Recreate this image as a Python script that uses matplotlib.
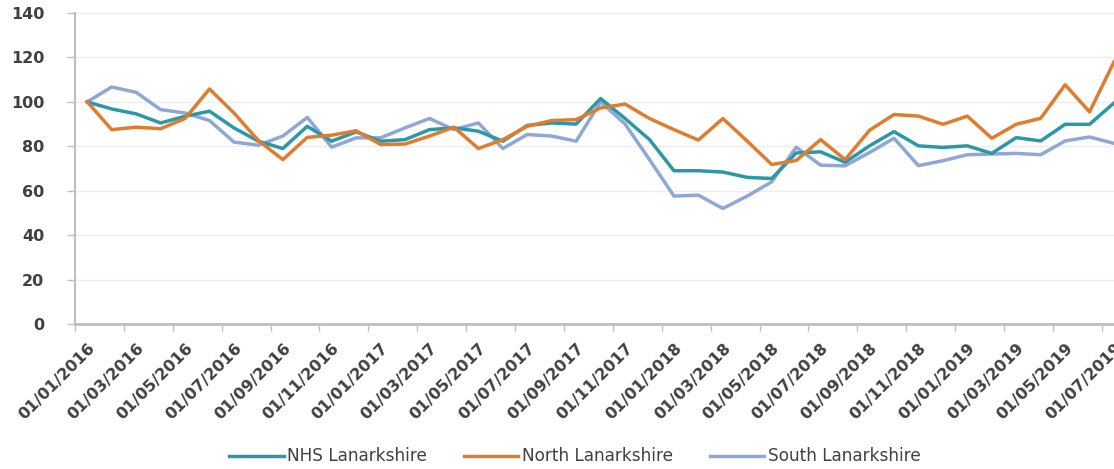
import matplotlib.pyplot as plt

# monthly index values, 01/01/2016 .. 01/07/2019
months = ['01/%02d/%d' % (m, y) for y in (2016, 2017, 2018, 2019) for m in range(1, 13)][:43]

nhs = [100, 96.8, 94.6, 90.5, 93.5, 95.8, 88.3, 82.3, 79, 89, 82.3, 86.5,
       82.3, 83, 87.5, 88.3, 86.8, 82.3, 89.4, 90.5, 90, 101.5, 92.5, 83,
       69, 69, 68.4, 66, 65.5, 77, 77.5, 72.8, 80.2, 86.6, 80.2, 79.5,
       80.2, 76.8, 83.9, 82.4, 89.9, 89.9, 99.5]
north = [100, 87.5, 88.6, 87.9, 92.5, 105.8, 95, 82.6, 74, 84, 85, 87,
         80.8, 81, 84.6, 88.6, 79, 83, 89, 91.6, 92, 97.3, 99, 92.5,
         87.5, 82.8, 92.5, 82.3, 71.8, 73.6, 83, 74, 87.2, 94.3, 93.6, 89.9,
         93.6, 83.6, 89.9, 92.6, 107.7, 95.5, 118]
south = [100, 106.7, 104.3, 96.5, 95, 91.6, 81.9, 80.5, 84.6, 93, 79.6, 83.8,
         83.8, 88.3, 92.5, 87.5, 90.5, 79, 85.3, 84.6, 82.3, 100, 90, 74,
         57.6, 58, 52, 57.6, 64, 79.6, 71.5, 71.2, 77.2, 83.6, 71.3, 73.5,
         76.2, 76.5, 76.8, 76.2, 82.4, 84.2, 81.3]

x = list(range(len(months)))

fig = plt.figure(figsize=(11.14, 4.69), dpi=100)
ax = fig.add_axes([75/1114, 145/469, 1 - 75/1114, 311/469])

ax.plot(x, nhs, color='#2B98A8', linewidth=2.5, label='NHS Lanarkshire', zorder=3)
ax.plot(x, north, color='#E07C2E', linewidth=2.5, label='North Lanarkshire', zorder=3)
ax.plot(x, south, color='#8FA7D6', linewidth=2.5, label='South Lanarkshire', zorder=2)

ax.set_ylim(0, 140)
ax.set_yticks(range(0, 141, 20))
ax.set_xlim(-0.5, 42.0)
ax.grid(axis='y', color='#EEEEEE', linewidth=1)
ax.set_axisbelow(True)

for s in ('top', 'right'):
    ax.spines[s].set_visible(False)
ax.spines['left'].set_color('#BFBFBF')
ax.spines['left'].set_linewidth(1.5)
ax.spines['bottom'].set_color('#BFBFBF')
ax.spines['bottom'].set_linewidth(2)

# tick marks between categories, labels on every other month
ax.set_xticks([i - 0.5 for i in range(0, 43, 2)])
ax.set_xticklabels([])
ax.tick_params(axis='x', which='major', length=5, color='#BFBFBF', width=1)
ax.set_xticks(x[::2], minor=True)
ax.set_xticklabels(months[::2], minor=True, rotation=45, ha='right',
                   rotation_mode='anchor', fontsize=11.5, fontweight='bold', color='#404040')
ax.tick_params(axis='x', which='minor', length=0, pad=12)
ax.tick_params(axis='y', length=6, color='#BFBFBF', width=1, pad=16,
               labelsize=11.5, labelcolor='#404040')
for t in ax.get_yticklabels():
    t.set_fontweight('bold')

fig.legend(loc='lower center', bbox_to_anchor=(0.516, -0.025), ncol=3, frameon=False,
           handlelength=3.2, handletextpad=0.2, columnspacing=2.2,
           prop={'size': 12.2}, labelcolor='#404040')

fig.savefig('out.png', dpi=100)
